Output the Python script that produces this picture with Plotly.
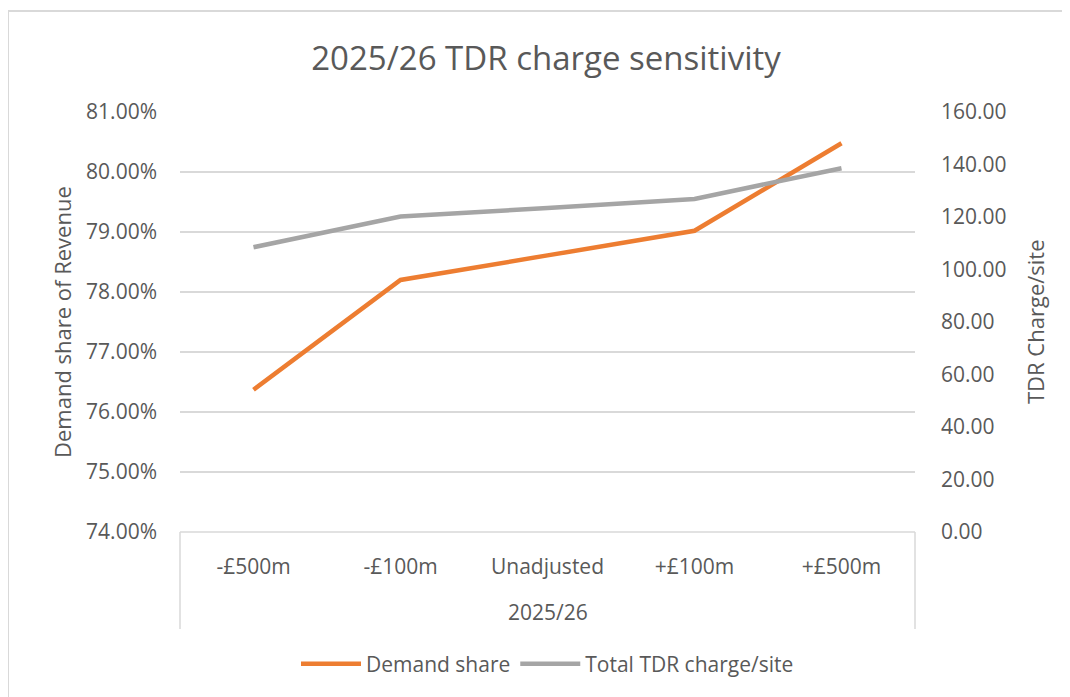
import plotly.graph_objects as go

categories = ["-£500m", "-£100m", "Unadjusted", "+£100m", "+£500m"]
group_label = "2025/26"
demand_share = [76.37, 78.20, 78.61, 79.02, 80.48]  # percent
tdr_charge = [108.5, 120.2, 123.4, 126.9, 138.6]
left_ticks = [74, 75, 76, 77, 78, 79, 80, 81]
right_ticks = [0, 20, 40, 60, 80, 100, 120, 140, 160]

FONT = "Open Sans, Lato, sans-serif"
TXT = "#595959"
GRID = "#d9d9d9"

OFF = 8  # browser body margin
W, H = 1070, 697


def px(v):
    return v - OFF


L, R, T, B = px(180), px(915), px(112), px(532)
pw, ph = R - L, B - T

fig = go.Figure()
fig.add_trace(go.Scatter(x=categories, y=demand_share, name="Demand share",
                         mode="lines", line=dict(color="#ED7D31", width=4.5)))
fig.add_trace(go.Scatter(x=categories, y=tdr_charge, name="Total TDR charge/site",
                         mode="lines", line=dict(color="#A5A5A5", width=4.5), yaxis="y2"))

fig.update_layout(
    width=W, height=H,
    margin=dict(l=L, r=W - R, t=T, b=H - B, autoexpand=False),
    paper_bgcolor="white", plot_bgcolor="white",
    font=dict(family=FONT, color=TXT, size=21),
    title=dict(text="2025/26 TDR charge sensitivity", x=(px(546)) / W, xanchor="center",
               y=1 - px(58) / H, yanchor="middle", font=dict(size=33, color=TXT, family=FONT)),
    xaxis=dict(type="category", categoryorder="array", categoryarray=categories,
               range=[-0.5, 4.5], showgrid=False, showline=False, zeroline=False,
               ticks="", tickfont=dict(size=21, color=TXT), ticklabelstandoff=20),
    yaxis=dict(range=[74, 81], tickvals=left_ticks,
               ticktext=[f"{v:.2f}%" for v in left_ticks],
               showgrid=True, gridcolor=GRID, gridwidth=1.5, zeroline=False,
               showline=False, ticks="", tickfont=dict(size=21, color=TXT),
               ticklabelstandoff=22),
    yaxis2=dict(range=[0, 160], tickvals=right_ticks,
                ticktext=[f"{v:.2f}" for v in right_ticks],
                overlaying="y", side="right", showgrid=False, zeroline=False,
                showline=False, ticks="", tickfont=dict(size=21, color=TXT),
                ticklabelstandoff=25),
    legend=dict(orientation="h", x=0.5, xanchor="center", y=(B - px(664)) / ph,
                yanchor="middle", font=dict(size=21, color=TXT), itemwidth=60,
                traceorder="normal"),
    showlegend=True,
)

fig.add_annotation(text=group_label, xref="paper", yref="paper", x=0.5,
                   y=(B - px(612)) / ph, showarrow=False, font=dict(size=21, color=TXT),
                   xanchor="center", yanchor="middle")
fig.add_annotation(text="Demand share of Revenue", xref="paper", yref="paper",
                   x=(px(62) - L) / pw, y=(B - px(322)) / ph, textangle=-90, showarrow=False,
                   font=dict(size=22, color=TXT), xanchor="center", yanchor="middle")
fig.add_annotation(text="TDR Charge/site", xref="paper", yref="paper",
                   x=(px(1035) - L) / pw, y=(B - px(322)) / ph, textangle=-90, showarrow=False,
                   font=dict(size=22, color=TXT), xanchor="center", yanchor="middle")

# category box sides and bottom axis line
for xp in (0, 1):
    fig.add_shape(type="line", xref="paper", yref="paper", x0=xp, x1=xp,
                  y0=0, y1=(B - px(629)) / ph, line=dict(color=GRID, width=1.5))
fig.add_shape(type="line", xref="paper", yref="paper", x0=0, x1=1, y0=0, y1=0,
              line=dict(color=GRID, width=1.5))
# outer chart border (left and top edges only; others lie outside the picture)
bx0 = (px(8) - L) / pw
by1 = (B - px(11)) / ph
fig.add_shape(type="line", xref="paper", yref="paper", x0=bx0, x1=bx0,
              y0=(B - px(720)) / ph, y1=by1, line=dict(color=GRID, width=2), layer="below")
fig.add_shape(type="line", xref="paper", yref="paper", x0=bx0, x1=(px(1090) - L) / pw,
              y0=by1, y1=by1, line=dict(color=GRID, width=2), layer="below")

fig.write_html("out.html")
